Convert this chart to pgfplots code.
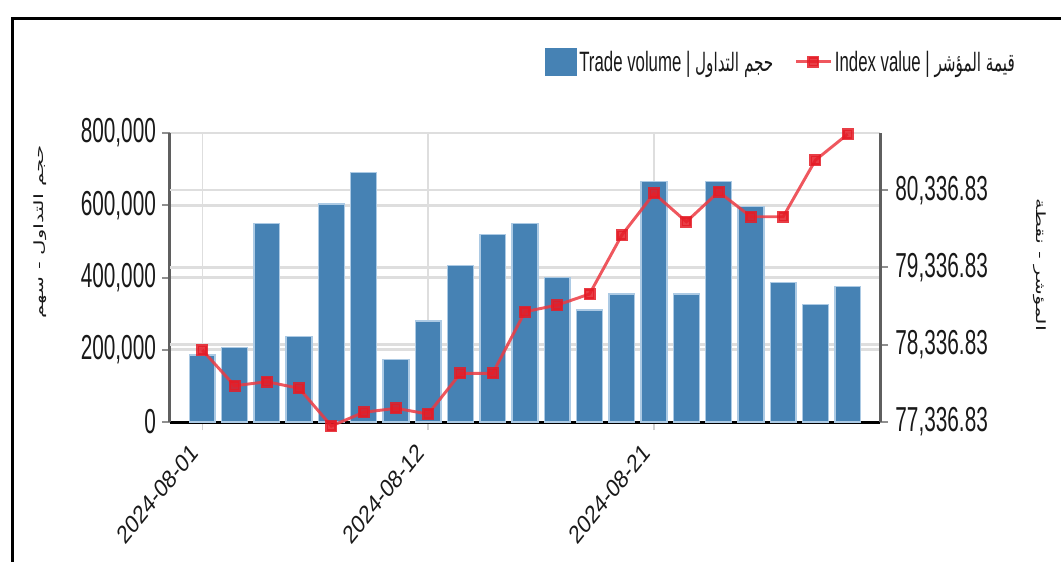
\documentclass[border=0pt]{standalone}
\usepackage{pgfplots}
\pgfplotsset{compat=1.18}
\usepackage{pgfplotstable}
\usepackage{fontspec}
\setmainfont{Liberation Sans}
\newfontfamily\narrowfont[FakeStretch=0.6]{Liberation Sans}
\newfontfamily\arabicfont[Script=Arabic]{DejaVu Sans}
\newfontfamily\arabicnarrow[Script=Arabic,FakeStretch=0.6]{DejaVu Sans}
\TeXXeTstate=1
\definecolor{barblue}{RGB}{70,130,180}
\definecolor{baredge}{RGB}{172,202,228}
\definecolor{linered}{RGB}{236,58,66}
\definecolor{markred}{RGB}{228,28,38}
\definecolor{gridgray}{RGB}{222,222,222}
\definecolor{axisgray}{RGB}{95,95,95}
\definecolor{txt}{RGB}{25,25,25}
\pgfplotsset{
  linelegend/.style={legend image code/.code={\draw[mark repeat=2,mark phase=2,##1] plot coordinates {(0pt,0pt)(13pt,0pt)(26pt,0pt)};}},
  barlegend/.style={legend image code/.code={\fill[barblue] (0pt,-10pt) rectangle (23.25pt,10pt);}},
}

\pgfplotstableread{
x vol idx
0 185500 78268
1 206800 77806
2 550000 77858
3 236000 77773
4 604000 77285
5 691000 77462
6 173500 77514
7 279600 77440
8 432700 77967
9 519600 77967
10 550000 78764
11 399500 78850
12 310000 78993
13 354300 79756
14 665200 80295
15 354300 79928
16 665200 80316
17 596000 79993
18 385600 79993
19 325800 80726
20 374500 81062
}\datatable

\begin{document}
\begin{tikzpicture}
\draw[line width=2.25pt, black] (9pt,-3pt) -- (9pt,407pt) -- (800pt,407pt);
\begin{axis}[
  at={(127.5pt,104.25pt)}, anchor=south west,
  scale only axis, width=532.5pt, height=216.75pt,
  xmin=-1, xmax=21, ymin=0, ymax=800000,
  axis x line*=bottom, axis y line*=left,
  x axis line style={-, black, line width=2.25pt},
  y axis line style={-, draw=axisgray, line width=2.25pt},
  xtick={0,7,14}, xticklabels={2024-08-01,2024-08-12,2024-08-21},
  ytick={0,200000,400000,600000,800000},
  yticklabels={0,{200,000},{400,000},{600,000},{800,000}},
  scaled y ticks=false,
  tick align=outside,
  major tick length=6pt,
  xtick style={draw=gridgray!85!gray, line width=1.1pt},
  ytick style={draw=axisgray!70, line width=1.5pt},
  xmajorgrids, ymajorgrids,
  x grid style={gridgray, line width=1.1pt},
  y grid style={gridgray, line width=1.9pt},
  extra y ticks={213904,427807,641711},
  extra y tick labels={},
  extra y tick style={major tick length=0pt},
  yticklabel style={font=\narrowfont\fontsize{26}{26}\selectfont, text=txt, xshift=-1pt},
  xticklabel style={font=\fontsize{19}{19}\selectfont, text=txt, xshift=-4pt, yshift=-11pt, xscale=0.8, rotate=45, anchor=east},
]
\addplot[ybar, bar width=0.8, fill=barblue, draw=baredge, line width=1.1pt] table[x=x,y=vol]{\datatable};
\end{axis}
\begin{axis}[
  at={(127.5pt,104.25pt)}, anchor=south west,
  scale only axis, width=532.5pt, height=216.75pt,
  xmin=-1, xmax=21, ymin=77336.83, ymax=81076.83,
  axis x line=none, axis y line*=right,
  y axis line style={-, draw=axisgray, line width=2.25pt},
  ytick={77336.83,78336.83,79336.83,80336.83},
  yticklabels={{77,336.83},{78,336.83},{79,336.83},{80,336.83}},
  scaled y ticks=false,
  tick align=outside, major tick length=6pt,
  ytick style={draw=axisgray!70, line width=1.5pt},
  yticklabel style={font=\narrowfont\fontsize{26}{26}\selectfont, text=txt, xshift=2pt},
  clip=false,
  legend columns=2,
  legend cell align=left,
  legend style={at={(axis description cs:0.528,1.246)}, anchor=west, draw=none, fill=none, inner sep=0pt,
    font=\narrowfont\fontsize{21}{24}\selectfont, text=txt,
    /tikz/every even column/.append style={column sep=14pt}},
]
\addlegendimage{barlegend}
\addlegendentry{Trade volume | {\arabicnarrow\fontsize{19}{22}\selectfont\beginR حجم التداول\endR}}
\addplot[color=linered, line width=2.2pt, opacity=0.85, mark=square*, mark size=3.4pt,
  mark options={fill=markred, draw=markred, solid}, linelegend]
  table[x=x,y=idx]{\datatable};
\addlegendentry{Index value | {\arabicnarrow\fontsize{19}{22}\selectfont\beginR قيمة المؤشر\endR}}
\node[font=\arabicfont\fontsize{16}{16}\selectfont, text=txt, xscale=0.6, rotate=90] at (axis description cs:-0.183,0.657) {\beginR حجم التداول - سهم\endR};
\node[font=\arabicfont\fontsize{16}{16}\selectfont, text=txt, xscale=0.6, rotate=-90] at (axis description cs:1.225,0.543) {\beginR المؤشر - نقطة\endR};
\end{axis}
\pgfresetboundingbox
\path[use as bounding box] (0pt,0pt) rectangle (795.75pt,420.75pt);
\end{tikzpicture}
\end{document}
